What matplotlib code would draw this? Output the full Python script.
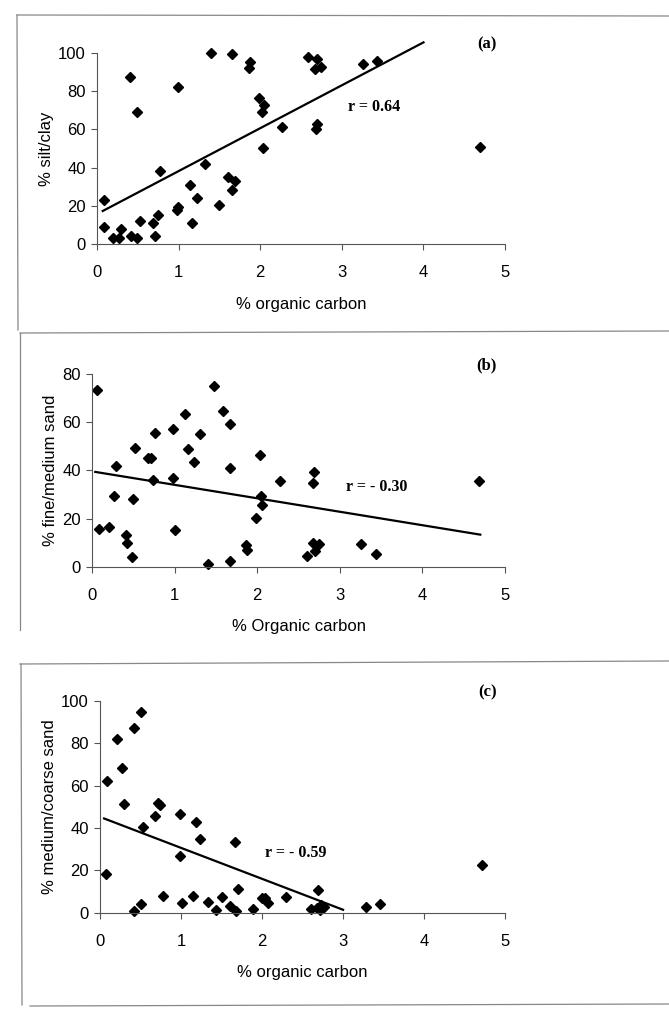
import numpy as np
import matplotlib
matplotlib.use('Agg')
import matplotlib.pyplot as plt
from matplotlib.lines import Line2D

# panel (a) % silt/clay vs % organic carbon
oc_a = [0.08, 0.09, 0.20, 0.27, 0.29, 0.41, 0.42, 0.49, 0.49, 0.53, 0.69, 0.71, 0.75, 0.77,
        0.99, 0.98, 0.99, 1.14, 1.17, 1.23, 1.32, 1.40, 1.49, 1.60, 1.66, 1.69, 1.66, 1.87,
        1.86, 1.98, 2.02, 2.05, 2.03, 2.27, 2.59, 2.69, 2.67, 2.74, 2.70, 2.68, 3.26, 3.43, 4.69]
silt = [9, 23, 3, 3.3, 8, 87.5, 4.3, 3, 69, 12, 11, 4, 15, 38,
        82, 18, 19.5, 31, 11, 24, 42, 100, 20.7, 35, 28.5, 33, 99.5, 95,
        92, 76.5, 69, 73, 50, 61, 98, 97, 91.5, 92.7, 63, 60, 94, 96, 51]
fit_a_x = [0.07, 4.0]
fit_a_y = [17.3, 105.5]

# panel (b) % fine/medium sand
oc_b = [0.06, 0.09, 0.20, 0.29, 0.27, 0.41, 0.42, 0.49, 0.50, 0.52, 0.68, 0.71, 0.74, 0.76,
        0.98, 0.98, 1.00, 1.13, 1.16, 1.23, 1.31, 1.41, 1.48, 1.59, 1.67, 1.67, 1.67, 1.87,
        1.88, 1.98, 2.03, 2.04, 2.06, 2.28, 2.60, 2.67, 2.69, 2.67, 2.70, 2.75, 3.26, 3.44, 4.69]
fine = [73.3, 15.9, 16.6, 42, 29.3, 13.1, 10, 4.3, 28.2, 49.3, 45.2, 45.3, 36, 55.4,
        57.3, 36.7, 15.2, 63.5, 49, 43.5, 55.2, 1.2, 74.9, 64.8, 41, 59.3, 2.6, 9.3,
        7.2, 20.3, 46.5, 29.4, 25.8, 35.8, 4.6, 34.8, 39.5, 10, 6.6, 9.7, 9.7, 5.5, 35.5]
fit_b_x = [0.04, 4.7]
fit_b_y = [39.4, 13.4]

# panel (c) % medium/coarse sand
oc_c = [0.08, 0.09, 0.21, 0.27, 0.29, 0.42, 0.42, 0.50, 0.51, 0.53, 0.68, 0.72, 0.74, 0.78,
        0.99, 0.99, 1.01, 1.15, 1.18, 1.24, 1.33, 1.43, 1.50, 1.61, 1.67, 1.68, 1.70, 1.89,
        2.00, 2.04, 2.07, 2.29, 2.61, 2.69, 2.71, 2.73, 2.76, 2.68, 3.28, 3.45, 4.72]
coarse = [18.4, 62.1, 81.8, 68.4, 51.1, 87.3, 0.8, 94.8, 4.4, 40.3, 45.6, 52, 50.9, 8,
          46.5, 26.7, 4.9, 8, 42.6, 35, 5.2, 1.3, 7.5, 3.3, 33.5, 0.9, 11.3, 2,
          7, 7, 4.9, 7.4, 2, 10.8, 1.3, 3.6, 2.8, 2.4, 3, 4.4, 22.5]
fit_c_x = [0.05, 3.0]
fit_c_y = [44.5, 1.5]

plt.rcParams['font.family'] = ['Liberation Sans', 'DejaVu Sans']

fig = plt.figure(figsize=(6.69, 10.17), dpi=100)

panels = [
    ([0.145, 0.760, 0.610, 0.188], oc_a, silt, fit_a_x, fit_a_y, 100, 20,
     '% silt/clay', '% organic carbon', '(a)', 'r = 0.64', (3.08, 71.5)),
    ([0.1375, 0.4425, 0.6175, 0.1898], oc_b, fine, fit_b_x, fit_b_y, 80, 20,
     '% fine/medium sand', '% Organic carbon', '(b)', 'r = - 0.30', (3.08, 33.2)),
    ([0.1495, 0.1023, 0.6055, 0.2088], oc_c, coarse, fit_c_x, fit_c_y, 100, 20,
     '% medium/coarse sand', '% organic carbon', '(c)', 'r = - 0.59', (2.04, 28.2)),
]

for rect, x, y, fx, fy, ymax, ystep, ylab, xlab, tag, rtxt, rpos in panels:
    ax = fig.add_axes(rect)
    ax.plot(x, y, 'D', color='black', ms=5.2, clip_on=False)
    ax.plot(fx, fy, '-', color='black', lw=1.6, clip_on=False)
    ax.set_xlim(0, 5)
    ax.set_ylim(0, ymax)
    ax.set_xticks(range(6))
    ax.set_yticks(range(0, ymax + 1, ystep))
    for s in ['top', 'right']:
        ax.spines[s].set_visible(False)
    for s in ['left', 'bottom']:
        ax.spines[s].set_color('#555555')
        ax.spines[s].set_linewidth(0.8)
    ax.tick_params(axis='x', length=4, width=0.8, color='#555555', pad=11, labelsize=12)
    ax.tick_params(axis='y', length=4, width=0.8, color='#555555', pad=4, labelsize=12)
    ax.set_xlabel(xlab, fontsize=12, labelpad=12)
    ax.set_ylabel(ylab, fontsize=12, labelpad=3)
    ax.annotate(tag, xy=(4.78, 1.0), xycoords=('data', 'axes fraction'),
                xytext=(0, 6), textcoords='offset points', ha='center', va='center',
                fontsize=12, fontweight='bold', family='Liberation Serif')
    ax.text(rpos[0], rpos[1], rtxt, ha='left', va='center',
            fontsize=11.5, fontweight='bold', family='Liberation Serif')

# scanned panel frame lines
frame = [([17 / 669, 1], [1 - 15 / 1017, 1 - 16 / 1017]),
         ([17 / 669, 18 / 669], [1 - 15 / 1017, 1 - 330 / 1017]),
         ([20 / 669, 1], [1 - 333 / 1017, 1 - 331 / 1017]),
         ([20 / 669, 20 / 669], [1 - 333 / 1017, 1 - 630 / 1017]),
         ([20 / 669, 1], [1 - 664 / 1017, 1 - 661 / 1017]),
         ([21 / 669, 22 / 669], [1 - 664 / 1017, 1 - 1005 / 1017]),
         ([30 / 669, 1], [1 - 1006 / 1017, 1 - 1004 / 1017])]
for fxs, fys in frame:
    fig.add_artist(Line2D(fxs, fys, transform=fig.transFigure, color='#888888', lw=0.9))

plt.savefig('out.png', dpi=100)
